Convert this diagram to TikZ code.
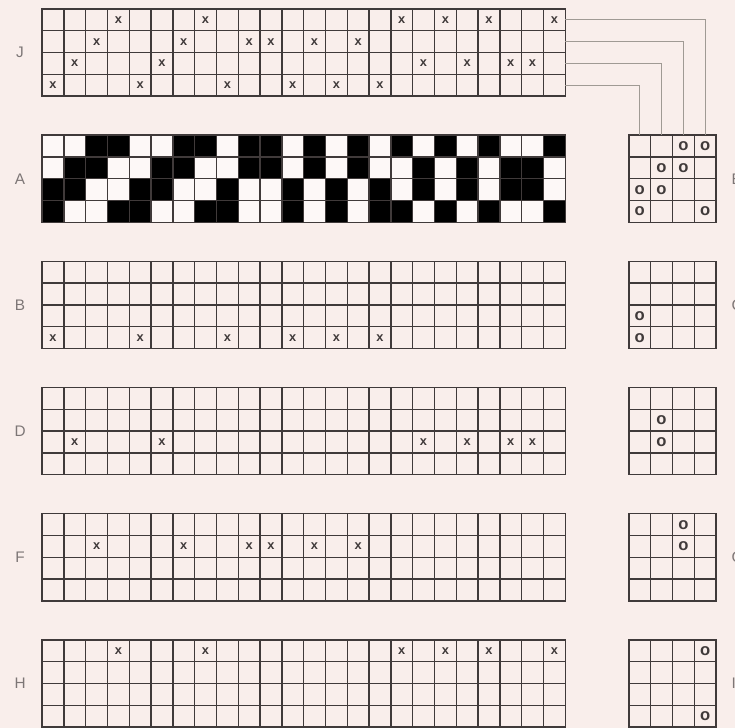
\documentclass[tikz,border=0pt]{standalone}
\usepackage{fontspec}
\setmainfont{Liberation Sans}
\definecolor{paper}{RGB}{249,238,235}
\definecolor{inkgrey}{RGB}{64,58,58}
\definecolor{lettergrey}{RGB}{125,118,118}
\definecolor{cordgrey}{RGB}{160,154,148}
% a 4-row draft grid, #1 columns wide, from the scope origin down
\newcommand{\draftcells}[1]{%
  \foreach \gc in {0,...,#1} \draw[draftgrid] (\gc,0) -- (\gc,-4);
  \foreach \gr in {0,...,4} \draw[draftgrid] (0,-\gr) -- (#1,-\gr);}

\begin{document}
\begin{tikzpicture}[x=0.6cm, y=0.6cm,
  draftgrid/.style={draw=inkgrey, line width=1.1pt, line cap=rect},
  xmark/.style={inner sep=0pt, text=inkgrey, font=\fontsize{10}{10}\selectfont\bfseries},
  omark/.style={inner sep=0pt, text=inkgrey, font=\fontsize{13}{13}\selectfont\bfseries},
  draftname/.style={text=lettergrey, font=\fontsize{12}{12}\selectfont},
  cord/.style={draw=cordgrey, line width=0.6pt}]
\useasboundingbox (0,0) rectangle (33.72,-33.39);
\fill[paper] (0,0) rectangle (33.72,-33.39);

% threading
\begin{scope}[shift={(1.93,-0.41)}]
\draftcells{24}
\foreach \c/\r [count=\i] in {1/4,2/3,3/2,4/1,5/4,6/3,7/2,8/1,9/4,10/2,11/2,12/4,13/2,14/4,15/2,16/4,17/1,18/3,19/1,20/3,21/1,22/3,23/3,24/1}
  \node[xmark] (jx\i) at (\c-0.5,0.5-\r) {x};
\foreach \r in {1,...,4}
  \coordinate (jend\r) at (24,0.5-\r);
\end{scope}

% drawdown
\begin{scope}[shift={(1.93,-6.20)}]
\fill[white!60!paper] (0,0) rectangle (24,-4);
\foreach \r/\cols in {1/{3,4,7,8,10,11,13,15,17,19,21,24},2/{2,3,6,7,10,11,13,15,18,20,22,23},3/{1,2,5,6,9,12,14,16,18,20,22,23},4/{1,4,5,8,9,12,14,16,17,19,21,24}}
  \foreach \c in \cols
    \fill[black] (\c-1,1-\r) rectangle (\c,-\r);
\draftcells{24}
\end{scope}

% tie-up
\begin{scope}[shift={(28.85,-6.20)}]
\draftcells{4}
\foreach \c/\r [count=\i] in {3/1,4/1,2/2,3/2,1/3,2/3,1/4,4/4}
  \node[omark] (tu\i) at (\c-0.5,0.5-\r) {o};
\foreach \c in {1,...,4}
  \coordinate (ttop\c) at (\c-0.5,0);
\end{scope}

\draw[cord] (jend1) -| (ttop4);
\draw[cord] (jend2) -| (ttop3);
\draw[cord] (jend3) -| (ttop2);
\draw[cord] (jend4) -| (ttop1);

% shaft 4
\begin{scope}[shift={(1.93,-11.99)}]
\draftcells{24}
\foreach \c [count=\i] in {1,5,9,12,14,16}
  \node[xmark] (bx\i) at (\c-0.5,-3.5) {x};
\end{scope}
\begin{scope}[shift={(28.85,-11.99)}]
\draftcells{4}
\node[omark] (bo1) at (0.5,-2.5) {o};
\node[omark] (bo2) at (0.5,-3.5) {o};
\end{scope}

% shaft 3
\begin{scope}[shift={(1.93,-17.78)}]
\draftcells{24}
\foreach \c [count=\i] in {2,6,18,20,22,23}
  \node[xmark] (dx\i) at (\c-0.5,-2.5) {x};
\end{scope}
\begin{scope}[shift={(28.85,-17.78)}]
\draftcells{4}
\node[omark] (do1) at (1.5,-1.5) {o};
\node[omark] (do2) at (1.5,-2.5) {o};
\end{scope}

% shaft 2
\begin{scope}[shift={(1.93,-23.57)}]
\draftcells{24}
\foreach \c [count=\i] in {3,7,10,11,13,15}
  \node[xmark] (fx\i) at (\c-0.5,-1.5) {x};
\end{scope}
\begin{scope}[shift={(28.85,-23.57)}]
\draftcells{4}
\node[omark] (fo1) at (2.5,-0.5) {o};
\node[omark] (fo2) at (2.5,-1.5) {o};
\end{scope}

% shaft 1
\begin{scope}[shift={(1.93,-29.36)}]
\draftcells{24}
\foreach \c [count=\i] in {4,8,17,19,21,24}
  \node[xmark] (hx\i) at (\c-0.5,-0.5) {x};
\end{scope}
\begin{scope}[shift={(28.85,-29.36)}]
\draftcells{4}
\node[omark] (ho1) at (3.5,-0.5) {o};
\node[omark] (ho2) at (3.5,-3.5) {o};
\end{scope}

% names
\node[draftname] (labJ) at (0.92,-2.41) {J};
\node[draftname] (labA) at (0.92,-8.20) {A};
\node[draftname] (labB) at (0.92,-13.99) {B};
\node[draftname] (labD) at (0.92,-19.78) {D};
\node[draftname] (labF) at (0.92,-25.57) {F};
\node[draftname] (labH) at (0.92,-31.36) {H};
\node[draftname, anchor=west, inner sep=0pt] (labE) at (33.55,-8.20) {E};
\node[draftname, anchor=west, inner sep=0pt] (labC) at (33.55,-13.99) {C};
\node[draftname, anchor=west, inner sep=0pt] (labG) at (33.55,-25.57) {G};
\node[draftname, anchor=west, inner sep=0pt] (labI) at (33.55,-31.36) {I};
\end{tikzpicture}
\end{document}
